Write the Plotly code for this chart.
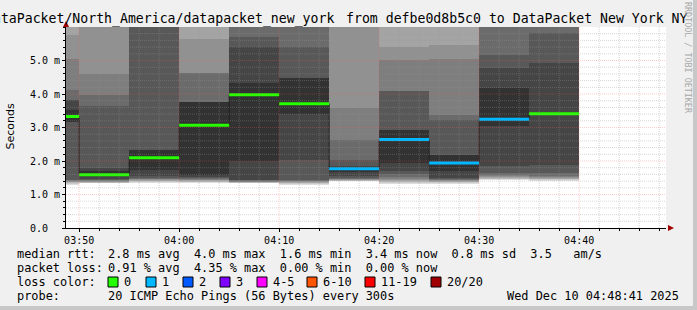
import plotly.graph_objects as go
from datetime import datetime, timedelta

# ---------------- data ----------------
day = "2025-12-10"
interval_end = ["03:50", "03:55", "04:00", "04:05", "04:10", "04:15",
                "04:20", "04:25", "04:30", "04:35", "04:40"]
median_ms = [3.33, 1.59, 2.10, 3.07, 3.98, 3.71, 1.77, 2.64, 1.94, 3.25, 3.41]
lost_pings = [0, 0, 0, 0, 0, 0, 1, 1, 1, 1, 0]
# 20 sorted ping times (ms) per 5-minute interval
smoke_ms = [
    [1.28, 1.31, 1.34, 1.36, 1.38, 1.40, 1.42, 1.44, 3.15, 3.15, 3.51, 3.82, 3.82, 4.12, 5.04, 5.76, 6.2, 6.8, 8.0, 12.0],
    [1.33, 1.34, 1.35, 1.36, 1.38, 1.40, 1.42, 1.43, 1.45, 1.58, 1.70, 1.80, 3.65, 3.97, 4.60, 6.3, 6.8, 7.5, 9.0, 14.0],
    [1.35, 1.37, 1.39, 1.41, 1.43, 1.45, 1.47, 1.49, 1.54, 1.74, 2.32, 2.34, 6.2, 6.6, 7.0, 7.5, 8.5, 10.0, 12.0, 16.0],
    [1.34, 1.36, 1.38, 1.40, 1.42, 1.44, 1.46, 1.48, 1.52, 1.59, 3.77, 3.77, 3.77, 4.63, 4.63, 5.63, 6.3, 7.0, 9.0, 13.0],
    [1.33, 1.33, 1.34, 1.36, 1.37, 1.38, 1.40, 1.42, 1.44, 1.99, 4.34, 5.41, 5.71, 6.3, 6.8, 7.5, 8.5, 10.0, 12.0, 15.0],
    [1.27, 1.30, 1.33, 1.35, 1.37, 1.39, 1.41, 1.44, 2.04, 3.41, 4.47, 4.47, 5.41, 6.3, 6.8, 7.5, 8.5, 10.0, 12.0, 15.0],
    [1.39, 1.40, 1.41, 1.42, 1.43, 1.45, 1.47, 1.49, 1.54, 1.68, 1.82, 1.84, 2.04, 2.63, 3.58, 6.3, 6.8, 7.5, 9.0, 12.0],
    [1.30, 1.35, 1.38, 1.41, 1.44, 1.47, 1.53, 1.61, 1.69, 1.94, 2.92, 2.93, 4.10, 4.10, 5.02, 5.41, 6.3, 7.0, 8.5, 11.0],
    [1.30, 1.33, 1.36, 1.38, 1.40, 1.42, 1.44, 1.46, 1.49, 1.69, 2.17, 2.19, 3.23, 3.38, 5.04, 5.46, 6.3, 7.0, 8.5, 11.0],
    [1.43, 1.45, 1.47, 1.49, 1.52, 1.55, 1.59, 1.65, 1.84, 3.05, 4.17, 4.77, 5.17, 6.3, 6.8, 7.5, 8.5, 10.0, 12.0, 15.0],
    [1.41, 1.43, 1.45, 1.47, 1.49, 1.51, 1.54, 1.64, 1.89, 3.40, 3.42, 4.92, 5.81, 6.3, 6.8, 7.5, 8.5, 10.0, 12.0, 15.0],
]
smoke_gray = [221, 202, 183, 164, 145, 126, 107, 88, 69, 50]
loss_levels = ["0", "1", "2", "3", "4-5", "6-10", "11-19", "20/20"]
loss_colors = ["#26ff00", "#00b8ff", "#0059ff", "#7e00ff", "#ff00ff", "#ff5500", "#ff0000", "#a10000"]
x_tick_labels = ["03:50", "04:00", "04:10", "04:20", "04:30", "04:40"]
y_tick_values = [0, 1, 2, 3, 4, 5]
y_tick_labels = ["0.0\u00a0\u00a0", "1.0 m", "2.0 m", "3.0 m", "4.0 m", "5.0 m"]

title_left = "DataPacket/North_America/datapacket_new_york"
title_right = "from defbe0d8b5c0 to DataPacket New York NY"
legend_rows = [
    ("median rtt:", "2.8 ms avg  4.0 ms max  1.6 ms min  3.4 ms now  0.8 ms sd  3.5   am/s"),
    ("packet loss:", "0.91 % avg  4.35 % max  0.00 % min  0.00 % now"),
    ("loss color:", ""),
    ("probe:", "20 ICMP Echo Pings (56 Bytes) every 300s"),
]
stamp_text = "Wed Dec 10 04:48:41 2025"
watermark = "RRDTOOL / TOBI OETIKER"

# ---------------- geometry ----------------
W_PX, H_PX = 697, 310
L, R, T, B = 66, 666, 27, 228
PW, PH = R - L, B - T

def xp(px):
    return (px - L) / PW

def yp(py):
    return (B - py) / PH

STEP = timedelta(minutes=5)
ends = [datetime.fromisoformat(f"{day} {t}") for t in interval_end]
starts = [e - STEP for e in ends]
centers = [s + STEP / 2 for s in starts]
x_start = datetime.fromisoformat(f"{day} 03:48:41")
x_end = datetime.fromisoformat(f"{day} 04:48:41")

MONO = "DejaVu Sans Mono"
fig = go.Figure()

# smoke: band i spans ping[i] .. ping[19-i]
for i, g in enumerate(smoke_gray):
    lo = [p[i] for p in smoke_ms]
    hi = [p[19 - i] for p in smoke_ms]
    fig.add_trace(go.Bar(
        x=centers, base=lo, y=[h - l for h, l in zip(hi, lo)],
        width=[STEP.total_seconds() * 1000] * len(centers),
        marker=dict(color=f"rgb({g},{g},{g})", line=dict(width=0)),
        hoverinfo="skip", showlegend=False,
    ))

# dark median step line
fig.add_trace(go.Scatter(
    x=starts + [ends[-1]], y=median_ms + [median_ms[-1]],
    mode="lines", line=dict(color="#202020", width=1, shape="hv"),
    hoverinfo="skip", showlegend=False,
))

def loss_index(n):
    if n <= 3:
        return n
    if n <= 5:
        return 4
    if n <= 10:
        return 5
    if n <= 19:
        return 6
    return 7

for li, col in enumerate(loss_colors):
    xs, ys = [], []
    for s, e, m, n in zip(starts, ends, median_ms, lost_pings):
        if loss_index(n) == li:
            xs += [s, e, None]
            ys += [m, m, None]
    if xs:
        fig.add_trace(go.Scatter(x=xs, y=ys, mode="lines",
                                 line=dict(color=col, width=3),
                                 hoverinfo="skip", showlegend=False))

shapes = []
# grid on top of the smoke
MINOR = "rgba(150,150,150,0.38)"
MAJOR = "rgba(255,90,90,0.30)"
t = datetime.fromisoformat(f"{day} 03:50")
while t <= x_end:
    major = t.minute % 10 == 0
    shapes.append(dict(type="line", xref="x", yref="paper", x0=t, x1=t, y0=0, y1=1,
                       line=dict(color=MAJOR if major else MINOR, width=1, dash="1px,1px"),
                       layer="above"))
    t += timedelta(minutes=2)
for k in range(1, 30):
    v = k * 0.2
    major = k % 5 == 0
    shapes.append(dict(type="line", xref="paper", yref="y", x0=0, x1=1, y0=v, y1=v,
                       line=dict(color=MAJOR if major else MINOR, width=1, dash="1px,1px"),
                       layer="above"))

# axis arrows
ARROW = "#a00000"
shapes.append(dict(type="path", xref="paper", yref="paper",
                   path=f"M {xp(668)} {yp(225)} L {xp(674)} {yp(228)} L {xp(668)} {yp(231)} Z",
                   fillcolor=ARROW, line=dict(width=0)))
shapes.append(dict(type="path", xref="paper", yref="paper",
                   path=f"M {xp(63)} {yp(27)} L {xp(66)} {yp(21)} L {xp(69)} {yp(27)} Z",
                   fillcolor=ARROW, line=dict(width=0)))

# legend squares
sq_x = [108, 146, 183, 220, 257, 307, 365, 431]
for sx, col in zip(sq_x, loss_colors):
    shapes.append(dict(type="rect", xref="paper", yref="paper",
                       x0=xp(sx), x1=xp(sx + 10), y0=yp(287), y1=yp(277),
                       fillcolor=col, line=dict(color="black", width=1)))

# frame
shapes.append(dict(type="rect", xref="paper", yref="paper",
                   x0=xp(693), x1=xp(697), y0=yp(310), y1=yp(0),
                   fillcolor="#c8c8c8", line=dict(width=0)))
shapes.append(dict(type="rect", xref="paper", yref="paper",
                   x0=xp(0), x1=xp(697), y0=yp(310), y1=yp(306),
                   fillcolor="#c8c8c8", line=dict(width=0)))

ann = []
TFONT = dict(family=MONO, size=13.2, color="black")
ann.append(dict(text=title_left, xref="paper", yref="paper", x=xp(335.5), y=yp(19),
                xanchor="right", yanchor="middle", showarrow=False, font=TFONT))
ann.append(dict(text=title_right, xref="paper", yref="paper", x=xp(343.5), y=yp(19),
                xanchor="left", yanchor="middle", showarrow=False, font=TFONT))
ann.append(dict(text=watermark, xref="paper", yref="paper", x=xp(688), y=yp(58),
                xanchor="center", yanchor="middle", textangle=90, showarrow=False,
                font=dict(family=MONO, size=8.4, color="#a8a8a8")))
ann.append(dict(text="Seconds", xref="paper", yref="paper", x=xp(10.5), y=yp(127),
                xanchor="center", yanchor="middle", textangle=-90, showarrow=False,
                font=dict(family="DejaVu Sans", size=11, color="black")))

row_y = [254, 268, 282, 296]
LEG = dict(family=MONO, size=11.9, color="black")
for (lab, val), ry in zip(legend_rows, row_y):
    ann.append(dict(text=lab.replace(" ", "\u00a0"), xref="paper", yref="paper",
                    x=xp(14.5), y=yp(ry), xanchor="left", yanchor="middle",
                    showarrow=False, font=LEG))
    if val:
        ann.append(dict(text=val.replace(" ", "\u00a0"), xref="paper", yref="paper",
                        x=xp(105.5), y=yp(ry), xanchor="left", yanchor="middle",
                        showarrow=False, font=LEG))
for sx, lvl in zip(sq_x, loss_levels):
    ann.append(dict(text=lvl, xref="paper", yref="paper", x=xp(sx + 13.5), y=yp(282),
                    xanchor="left", yanchor="middle", showarrow=False, font=LEG))
ann.append(dict(text=stamp_text.replace(" ", "\u00a0"), xref="paper", yref="paper",
                x=xp(681), y=yp(296), xanchor="right", yanchor="middle",
                showarrow=False, font=LEG))

tick_times = [datetime.fromisoformat(f"{day} {t}") for t in x_tick_labels]

fig.update_layout(
    width=W_PX, height=H_PX,
    margin=dict(l=L, r=W_PX - R, t=T, b=H_PX - B, pad=0),
    paper_bgcolor="#f0f0f0", plot_bgcolor="white",
    barmode="overlay", bargap=0, showlegend=False,
    shapes=shapes, annotations=ann,
    xaxis=dict(type="date", range=[x_start, x_end], tickvals=tick_times,
               ticktext=x_tick_labels, showgrid=False, zeroline=False,
               showline=True, linecolor="black", linewidth=1,
               ticks="outside", ticklen=3, tickcolor="black",
               minor=dict(dtick=120000, ticks="outside", ticklen=2, tickcolor="black", showgrid=False),
               tickfont=dict(family=MONO, size=10, color="black"), fixedrange=True),
    yaxis=dict(range=[0, 6.0], tickvals=y_tick_values, ticktext=y_tick_labels,
               showgrid=False, zeroline=False, showline=True, linecolor="black",
               linewidth=1, ticks="outside", ticklen=3, tickcolor="black",
               minor=dict(dtick=0.2, ticks="outside", ticklen=2, tickcolor="black", showgrid=False),
               tickfont=dict(family=MONO, size=10, color="black"), fixedrange=True),
)

fig.write_html("out.html", config={"displayModeBar": False})
